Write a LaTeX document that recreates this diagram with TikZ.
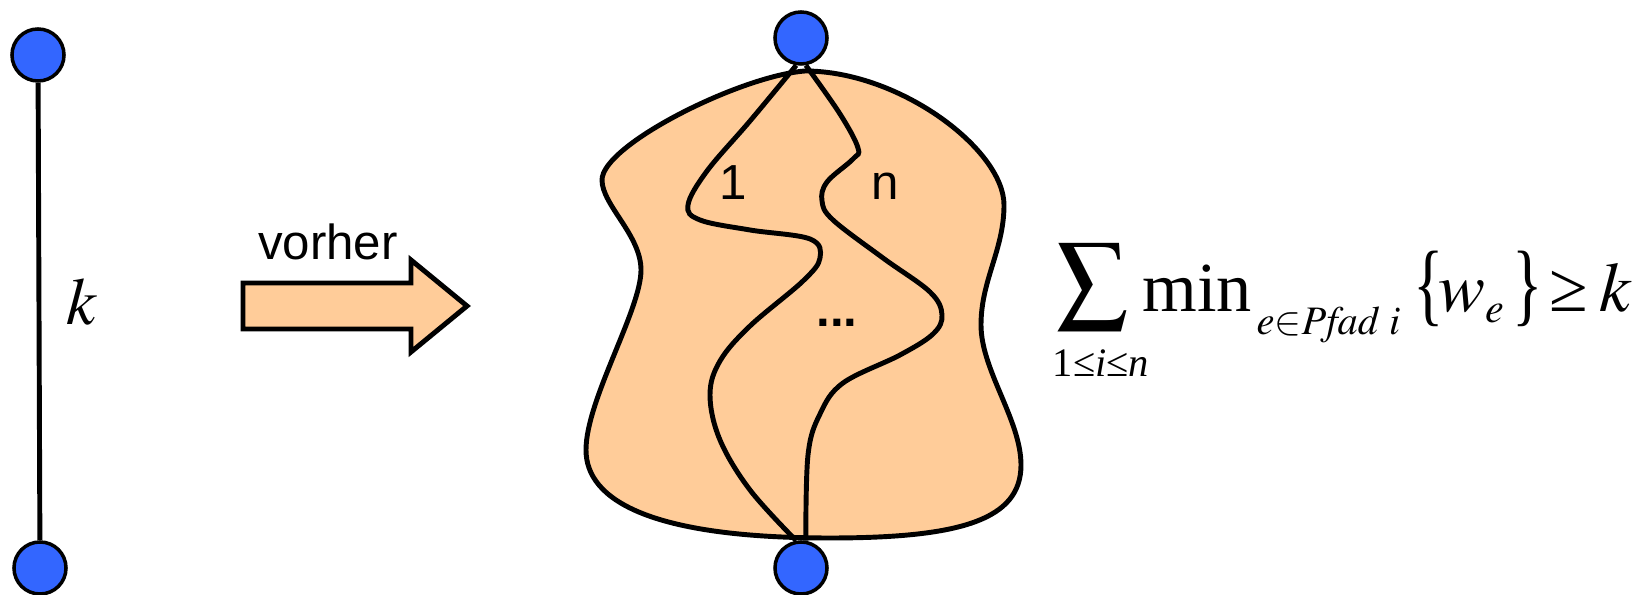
\documentclass[tikz,border=0pt]{standalone}
\usepackage{graphicx}
\usepackage{mathptmx}
\usepackage{fontspec}
\setmainfont{Liberation Serif}
\setsansfont{Liberation Sans}
\usepackage{tikz}
\usetikzlibrary{positioning,calc}

\definecolor{vblue}{RGB}{51,102,255}
\definecolor{peach}{RGB}{255,204,153}

\begin{document}
\begin{tikzpicture}[
        x=0.01cm, y=-0.01cm,
        every node/.style={font=\sffamily\fontsize{14}{16}\selectfont},
        vertex/.style={circle, draw=black, line width=1pt, fill=vblue, minimum size=0.52cm, inner sep=0pt},
        edge/.style={line width=1.4pt, draw=black},
        blob/.style={line width=1.4pt, draw=black, fill=peach},
        route/.style={line width=1.4pt, draw=black},
        fatarrow/.style={line width=1.4pt, draw=black, fill=peach},
        bigmath/.style={font=\rmfamily\fontsize{20}{24}\selectfont, inner sep=0pt, anchor=base west},
        smallmath/.style={font=\rmfamily\fontsize{11.5}{13}\selectfont, inner sep=0pt},
    ]
        \useasboundingbox (0,0) rectangle (1651,595);

        % left: single edge
        \node[vertex] (s1) at (38,55) {};
        \node[vertex] (t1) at (40,568) {};
        \draw[edge] (s1) -- (t1);
        \node[bigmath, font=\rmfamily\fontsize{19}{22}\selectfont, anchor=base] (klabel) at (82,325) {$k$};

        % arrow
        \draw[fatarrow] (243,283) -- (411,283) -- (411,260) -- (467,306) -- (411,352) -- (411,329) -- (243,329) -- cycle;
        \node[anchor=base] (vorher) at (328,260) {vorher};

        % right: region with n paths
        \draw[blob] (805,71)
            .. controls (740,76) and (602,145) .. (602,180)
            .. controls (602,205) and (641,235) .. (641,270)
            .. controls (641,310) and (586,400) .. (586,450)
            .. controls (586,500) and (650,538) .. (830,538)
            .. controls (960,538) and (1021,520) .. (1021,465)
            .. controls (1021,420) and (981,370) .. (981,325)
            .. controls (981,280) and (1004,250) .. (1004,205)
            .. controls (1004,150) and (900,71) .. cycle;
        \node[vertex] (s2) at (801,38) {};
        \node[vertex] (t2) at (801,568) {};

        \draw[route] plot[smooth, tension=0.6] coordinates {
            (s2.-100) (750,121) (707,171) (688,205) (700,220) (750,230) (810,239)
            (820,258) (803,281) (750,326) (720,361) (710,395) (720,440) (750,490) (t2.100)};
        \draw[route] plot[smooth, tension=0.6] coordinates {
            (s2.-80) (840,114) (858,148) (853,159) (827,182) (822,201) (833,220)
            (883,258) (930,292) (942,315) (933,334) (900,355) (843,383) (820,414)
            (808,455) (t2.80)};

        \node[anchor=base] (one) at (733,200) {1};
        \node[anchor=base] (enn) at (885,200) {n};
        \node[anchor=base] (dots) at (837,327) {\textbf{...}};

        % condition
        \node[bigmath] (sigma) at (1056,304) {$\displaystyle\sum$};
        \node[smallmath, anchor=base] (range) at (1101,377) {1≤\textit{i}≤\textit{n}};
        \node[bigmath] (minop) at (1142,312) {min};
        \node[smallmath, anchor=base west] (pathsub) at (1256,335) {$e{\in}\mathit{Pfad}\ i$};
        \node[bigmath] (lbrace) at (1413,315) {\scalebox{0.9}[1.3]{\{}};
        \node[bigmath] (weight) at (1438,312) {$w_{\scriptscriptstyle e}$};
        \node[bigmath] (rbrace) at (1512,315) {\scalebox{0.9}[1.3]{\}}};
        \node[bigmath] (geq) at (1549,312) {≥};
        \node[bigmath] (kbound) at (1599,312) {$k$};

    \end{tikzpicture}
\end{document}
